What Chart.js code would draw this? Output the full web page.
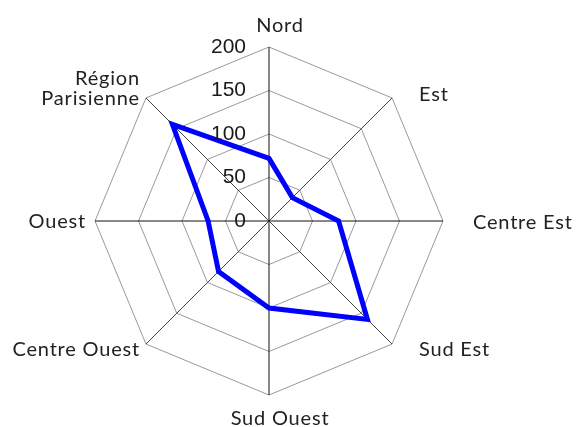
<!DOCTYPE html>
<html>
<head>
<meta charset="utf-8">
<script src="https://cdn.jsdelivr.net/npm/chart.js@4"></script>
<style>
  html, body { margin: 0; padding: 0; background: #fff; }
  #wrap { width: 576px; height: 427px; }
</style>
</head>
<body>
<div id="wrap"><canvas id="myChart"></canvas></div>
<script>
const regions = ['Nord', 'Est', 'Centre Est', 'Sud Est', 'Sud Ouest', 'Centre Ouest', 'Ouest', ['Région', 'Parisienne']];
const values = [72, 38, 80, 160, 100, 82, 70, 157];
const tickValues = [0, 50, 100, 150, 200];

// where each region label sits, relative to the end of its spoke
const labelPlace = [
    { align: 'center', dx: 11, dy: -15 },
    { align: 'left', dx: 27, dy: 3 },
    { align: 'left', dx: 30, dy: 8 },
    { align: 'left', dx: 27, dy: 12 },
    { align: 'center', dx: 11, dy: 30 },
    { align: 'right', dx: -6, dy: 12 },
    { align: 'right', dx: -9, dy: 7 },
    { align: 'right', dx: -6, dy: 7 }
];

const textLabels = {
    id: 'textLabels',
    afterDraw(chart) {
        const scale = chart.scales.r;
        const ctx = chart.ctx;
        ctx.save();

        // numbers on the vertical axis
        ctx.font = '21px "Liberation Sans", Arial, sans-serif';
        ctx.fillStyle = '#1a1a1a';
        ctx.textAlign = 'right';
        ctx.textBaseline = 'middle';
        tickValues.forEach(v => {
            const y = scale.yCenter - scale.getDistanceFromCenterForValue(v);
            ctx.fillText(String(v), scale.xCenter - 23, y);
        });

        // region names
        ctx.font = '20px Lato, sans-serif';
        ctx.letterSpacing = '0.8px';
        ctx.fillStyle = '#222';
        ctx.textBaseline = 'alphabetic';
        regions.forEach((name, i) => {
            const p = scale.getPointPosition(i, scale.drawingArea);
            const place = labelPlace[i];
            const lines = Array.isArray(name) ? name : [name];
            ctx.textAlign = place.align;
            lines.forEach((line, k) => {
                const y = p.y + place.dy - (lines.length - 1 - k) * 20;
                ctx.fillText(line, p.x + place.dx, y);
            });
        });
        ctx.restore();
    }
};

const ctx = document.getElementById('myChart').getContext('2d');
const radarChart = new Chart(ctx, {
    type: 'radar',
    data: {
        labels: regions,
        datasets: [{
            data: values,
            borderColor: '#0000ff',
            backgroundColor: 'rgba(0,0,0,0)',
            borderWidth: 5,
            pointRadius: 0,
            fill: false,
            tension: 0
        }]
    },
    options: {
        responsive: true,
        maintainAspectRatio: false,
        animation: false,
        layout: { padding: { top: 47, bottom: 32, left: 95, right: 133 } },
        plugins: {
            legend: { display: false },
            tooltip: { enabled: false }
        },
        scales: {
            r: {
                min: 0,
                max: 200,
                ticks: { stepSize: 50, display: false },
                grid: { color: '#999', lineWidth: 1 },
                angleLines: {
                    color: (c) => (c.index % 2 === 0 ? '#111' : '#444'),
                    lineWidth: 1
                },
                pointLabels: { display: false }
            }
        }
    },
    plugins: [textLabels]
});
</script>
</body>
</html>
